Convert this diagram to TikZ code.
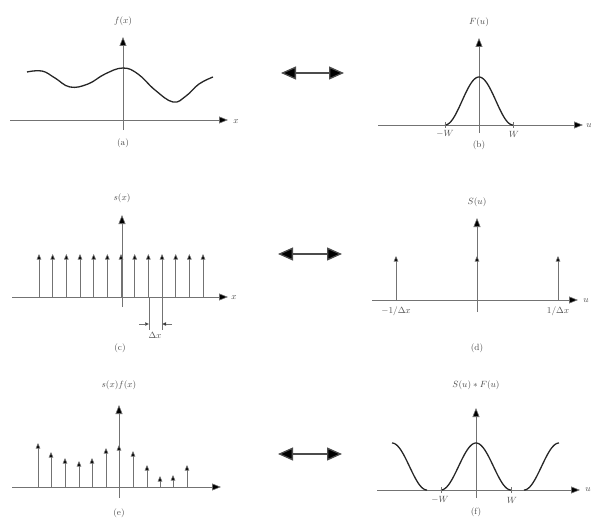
\documentclass[tikz,border=0pt]{standalone}
\usetikzlibrary{arrows.meta}
\begin{document}
\begin{tikzpicture}[x=1pt,y=-1pt,
  axis/.style={draw=black!55, line width=0.6pt, -{Triangle[length=9pt,width=7pt,fill=black]}},
  vline/.style={draw=black!55, line width=0.6pt},
  imp/.style={draw=black!55, line width=0.6pt, -{Triangle[length=5.5pt,width=4.5pt,fill=black]}},
  curve/.style={draw=black!85, line width=1.3pt},
  dbl/.style={draw=black!70, line width=1.3pt, {Triangle[length=15pt,width=13pt,fill=black]}-{Triangle[length=15pt,width=13pt,fill=black]}},
  lbl/.style={text=black!70, font=\small, inner sep=1pt},
  small/.style={draw=black!55, line width=0.5pt, -{Triangle[length=4pt,width=3.5pt,fill=black]}}
]
\useasboundingbox (0,0) rectangle (591,527);

% ---------- (a) ----------
\coordinate (aL) at (10,120); \coordinate (aR) at (228,120);
\coordinate (aB) at (123,130); \coordinate (aT) at (123,37);
\draw[axis] (aL) -- (aR);
\draw[axis] (aB) -- (aT);
\draw[curve] plot[smooth, tension=0.7] coordinates {(27,72) (42,71) (55,78) (70,87) (88,84) (105,74) (123,68) (138,74) (155,90) (173,102) (186,96) (199,84) (213,77)};
\node[lbl] (fx) at (123,21) {$f(x)$};
\node[lbl] (ax) at (236,122) {$x$};
\node[lbl] (la) at (123,143) {(a)};

% ---------- (b) ----------
\coordinate (bL) at (378,125); \coordinate (bR) at (583,125);
\coordinate (bB) at (479,133); \coordinate (bT) at (479,38);
\draw[axis] (bL) -- (bR);
\draw[axis] (bB) -- (bT);
\draw[curve] plot[domain=445:513, samples=60] (\x, {125-48*(1+cos(180*(\x-479)/34))/2});
\draw[vline] (445,122) -- (445,128);
\draw[vline] (513,122) -- (513,128);
\node[lbl] (Fu) at (479,22) {$F(u)$};
\node[lbl] (bu) at (589,126) {$u$};
\node[lbl] (bmW) at (445,134) {$-W$};
\node[lbl] (bW) at (514,134) {$W$};
\node[lbl] (lb) at (479,145) {(b)};

% ---------- (c) ----------
\coordinate (cL) at (12,297); \coordinate (cR) at (228,297);
\coordinate (cB) at (122,307); \coordinate (cT) at (122,215);
\draw[axis] (cL) -- (cR);
\draw[axis] (cB) -- (cT);
\foreach \i in {0,...,12} {
  \draw[imp] ({39+13.67*\i},297) -- ({39+13.67*\i},254);
}
\coordinate (dx1) at (149,297); \coordinate (dx1b) at (149,330);
\coordinate (dx2) at (162,297); \coordinate (dx2b) at (162,330);
\draw[vline] (dx1) -- (dx1b);
\draw[vline] (dx2) -- (dx2b);
\coordinate (dxa) at (139,324); \coordinate (dxa2) at (149,324);
\coordinate (dxb) at (172,324); \coordinate (dxb2) at (162,324);
\draw[small] (dxa) -- (dxa2);
\draw[small] (dxb) -- (dxb2);
\node[lbl] (sx) at (122,198) {$s(x)$};
\node[lbl] (cx) at (234,298) {$x$};
\node[lbl] (dxl) at (155,335) {$\Delta x$};
\node[lbl] (lc) at (120,348) {(c)};

% ---------- (d) ----------
\coordinate (dL) at (372,300); \coordinate (dR) at (578,300);
\coordinate (dB) at (477,312); \coordinate (dT) at (477,218);
\draw[axis] (dL) -- (dR);
\draw[axis] (dB) -- (dT);
\foreach \xx in {396,477,558} {
  \draw[imp] (\xx,300) -- (\xx,256);
}
\node[lbl] (Su) at (477,202) {$S(u)$};
\node[lbl] (du) at (586,301) {$u$};
\node[lbl] (dm) at (396,311) {$-1/\Delta x$};
\node[lbl] (dp) at (558,311) {$1/\Delta x$};
\node[lbl] (ld) at (477,348) {(d)};

% ---------- (e) ----------
\coordinate (eL) at (12,487); \coordinate (eR) at (221,487);
\coordinate (eB) at (119,498); \coordinate (eT) at (119,405);
\draw[axis] (eL) -- (eR);
\draw[axis] (eB) -- (eT);
\foreach \xx/\yy in {38/443, 51/452, 65/458, 79/461, 92/458, 106/448, 119/445, 133/451, 147/465, 160/476, 173/475, 187/465} {
  \draw[imp] (\xx,487) -- (\xx,\yy);
}
\node[lbl] (sxfx) at (119,385) {$s(x)f(x)$};
\node[lbl] (le) at (119,513) {(e)};

% ---------- (f) ----------
\coordinate (fL) at (377,490); \coordinate (fR) at (580,490);
\coordinate (fB) at (476,498); \coordinate (fT) at (476,408);
\draw[axis] (fL) -- (fR);
\draw[axis] (fB) -- (fT);
\draw[curve] plot[domain=441:511, samples=60] (\x, {490-47*(1+cos(180*(\x-476)/35))/2});
\draw[curve] plot[domain=392:427, samples=40] (\x, {490-47*(1+cos(180*(\x-392)/35))/2});
\draw[curve] plot[domain=524:559, samples=40] (\x, {490-47*(1+cos(180*(\x-559)/35))/2});
\draw[vline] (441,487) -- (441,493);
\draw[vline] (511,487) -- (511,493);
\node[lbl] (SF) at (476,385) {$S(u)*F(u)$};
\node[lbl] (fu) at (588,490) {$u$};
\node[lbl] (fmW) at (440,500) {$-W$};
\node[lbl] (fW) at (512,500) {$W$};
\node[lbl] (lf) at (476,512) {(f)};

% ---------- double arrows ----------
\coordinate (r1l) at (281,73); \coordinate (r1r) at (344,73);
\coordinate (r2l) at (278,254); \coordinate (r2r) at (342,254);
\coordinate (r3l) at (278,454); \coordinate (r3r) at (342,454);
\draw[dbl] (r1l) -- (r1r);
\draw[dbl] (r2l) -- (r2r);
\draw[dbl] (r3l) -- (r3r);
\end{tikzpicture}
\end{document}
